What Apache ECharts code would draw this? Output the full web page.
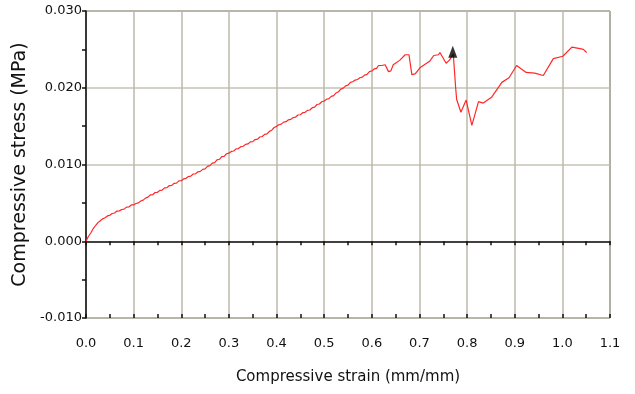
<!DOCTYPE html>
<html>
<head>
<meta charset="utf-8">
<script src="https://cdn.jsdelivr.net/npm/echarts@6/dist/echarts.min.js"></script>
<style>
html,body{margin:0;padding:0;background:#fff;}
#chart{width:635px;height:394px;}
</style>
</head>
<body>
<div id="chart"></div>
<script>
// Strain (mm/mm)
var strain = [
  0.000, 0.005, 0.010, 0.015, 0.020, 0.025, 0.030, 0.035, 0.040, 0.045,
  0.050, 0.055, 0.060, 0.065, 0.070, 0.075, 0.080, 0.085, 0.090, 0.095,
  0.100, 0.105, 0.110, 0.115, 0.120, 0.125, 0.130, 0.135, 0.140, 0.145,
  0.150, 0.155, 0.160, 0.165, 0.170, 0.175, 0.180, 0.185, 0.190, 0.195,
  0.200, 0.205, 0.210, 0.215, 0.220, 0.225, 0.230, 0.235, 0.240, 0.245,
  0.250, 0.255, 0.260, 0.265, 0.270, 0.275, 0.280, 0.285, 0.290, 0.295,
  0.300, 0.305, 0.310, 0.315, 0.320, 0.325, 0.330, 0.335, 0.340, 0.345,
  0.350, 0.355, 0.360, 0.365, 0.370, 0.375, 0.380, 0.385, 0.390, 0.395,
  0.400, 0.405, 0.410, 0.415, 0.420, 0.425, 0.430, 0.435, 0.440, 0.445,
  0.450, 0.455, 0.460, 0.465, 0.470, 0.475, 0.480, 0.485, 0.490, 0.495,
  0.500, 0.505, 0.510, 0.515, 0.520, 0.525, 0.530, 0.535, 0.540, 0.545,
  0.550, 0.555, 0.560, 0.565, 0.570, 0.575, 0.580, 0.585, 0.590, 0.595,
  0.600, 0.605, 0.610,
  0.614, 0.618, 0.621, 0.625, 0.628, 0.635, 0.640, 0.645,
  0.659, 0.670, 0.678, 0.684, 0.691, 0.701, 0.722, 0.730, 0.740, 0.743,
  0.756, 0.763, 0.771, 0.774, 0.776, 0.778, 0.787, 0.798, 0.810, 0.824,
  0.834, 0.852, 0.873, 0.888, 0.904, 0.924, 0.942, 0.960, 0.981, 1.001,
  1.020, 1.037, 1.044, 1.051
];
// Stress (MPa)
var stress = [
  0.00000, 0.00062, 0.00108, 0.00162, 0.00205, 0.00243, 0.00268, 0.00292, 0.00306, 0.00330,
  0.00338, 0.00362, 0.00368, 0.00393, 0.00396, 0.00414, 0.00418, 0.00445, 0.00447, 0.00473,
  0.00475, 0.00492, 0.00500, 0.00525, 0.00536, 0.00562, 0.00575, 0.00603, 0.00606, 0.00635,
  0.00638, 0.00662, 0.00667, 0.00695, 0.00698, 0.00726, 0.00728, 0.00755, 0.00757, 0.00786,
  0.00788, 0.00812, 0.00820, 0.00843, 0.00848, 0.00876, 0.00878, 0.00905, 0.00910, 0.00936,
  0.00942, 0.00975, 0.00985, 0.01018, 0.01025, 0.01060, 0.01068, 0.01102, 0.01107, 0.01140,
  0.01148, 0.01170, 0.01176, 0.01203, 0.01208, 0.01232, 0.01238, 0.01262, 0.01268, 0.01295,
  0.01298, 0.01325, 0.01330, 0.01358, 0.01365, 0.01392, 0.01398, 0.01432, 0.01447, 0.01482,
  0.01497, 0.01518, 0.01526, 0.01552, 0.01558, 0.01582, 0.01588, 0.01612, 0.01618, 0.01645,
  0.01648, 0.01675, 0.01680, 0.01705, 0.01710, 0.01740, 0.01748, 0.01782, 0.01788, 0.01818,
  0.01828, 0.01850, 0.01858, 0.01888, 0.01898, 0.01932, 0.01948, 0.01982, 0.01995, 0.02025,
  0.02035, 0.02070, 0.02078, 0.02100, 0.02108, 0.02130, 0.02138, 0.02165, 0.02175, 0.02210,
  0.02218, 0.02245, 0.02252,
  0.0229, 0.0227, 0.0229, 0.0227, 0.0230, 0.0221, 0.0222, 0.0230,
  0.0236, 0.0243, 0.0243, 0.0217, 0.0218, 0.0226, 0.0235, 0.0242, 0.0243, 0.0246,
  0.0232, 0.0236, 0.0244, 0.0244, 0.0200, 0.0185, 0.0168, 0.0184, 0.0151, 0.0182,
  0.0180, 0.0188, 0.0207, 0.0213, 0.0229, 0.0220, 0.0219, 0.0216, 0.0238, 0.0241,
  0.0253, 0.0251, 0.0250, 0.0246
];
// Failure marker
var peakStrain = [0.770];
var peakStress = [0.0247];

var xTicks = [0.0, 0.1, 0.2, 0.3, 0.4, 0.5, 0.6, 0.7, 0.8, 0.9, 1.0, 1.1];
var yTicks = [-0.010, 0.000, 0.010, 0.020, 0.030];

var lineData = strain.map(function (s, i) { return [s, stress[i]]; });
var peakData = peakStrain.map(function (s, i) { return [s, peakStress[i]]; });

var font = 'DejaVu Sans';
var chart = echarts.init(document.getElementById('chart'), null, {renderer: 'canvas'});
chart.setOption({
  animation: false,
  backgroundColor: '#ffffff',
  grid: {
    left: 86, right: 25, top: 11, bottom: 76,
    show: true, borderColor: '#222', borderWidth: 1, backgroundColor: 'transparent'
  },
  xAxis: [{
    type: 'value',
    min: xTicks[0], max: xTicks[xTicks.length - 1], interval: 0.1,
    name: 'Compressive strain (mm/mm)',
    nameLocation: 'middle', nameGap: 52,
    nameTextStyle: {fontFamily: font, fontSize: 15, color: '#111'},
    axisLine: {show: true, lineStyle: {color: '#111', width: 1.5}},
    axisTick: {show: true, inside: false, length: 4, lineStyle: {color: '#111', width: 1.5}},
    minorTick: {show: true, splitNumber: 2, length: 4, lineStyle: {color: '#111', width: 1.5}},
    axisLabel: {
      fontFamily: font, fontSize: 13, color: '#111', margin: 19,
      formatter: function (v) { return v.toFixed(1); }
    },
    splitLine: {show: true, lineStyle: {color: '#bcb8a8', width: 1.5}}
  }, {
    type: 'value', position: 'bottom',
    min: xTicks[0], max: xTicks[xTicks.length - 1], interval: 0.05,
    axisLine: {show: false},
    axisTick: {show: true, inside: true, length: 4, lineStyle: {color: '#111', width: 1.5}},
    axisLabel: {show: false},
    splitLine: {show: false}
  }],
  yAxis: {
    type: 'value',
    min: yTicks[0], max: yTicks[yTicks.length - 1], interval: 0.01,
    name: 'Compressive stress (MPa)',
    nameLocation: 'middle', nameGap: 54, nameRotate: 90,
    nameTextStyle: {fontFamily: font, fontSize: 19, color: '#111'},
    axisLine: {show: true, lineStyle: {color: '#111', width: 1.5}},
    axisTick: {show: true, inside: false, length: 4, lineStyle: {color: '#111', width: 1.5}},
    minorTick: {show: true, splitNumber: 2, length: 4, lineStyle: {color: '#111', width: 1.5}},
    axisLabel: {
      fontFamily: font, fontSize: 13, color: '#111', margin: 4,
      formatter: function (v) { return v.toFixed(3); }
    },
    splitLine: {show: true, lineStyle: {color: '#c6c2b4', width: 1.5}}
  },
  series: [{
    type: 'line',
    data: lineData,
    showSymbol: false,
    lineStyle: {color: '#ff2828', width: 1.2},
    z: 3
  }, {
    type: 'scatter',
    data: peakData,
    symbol: 'triangle',
    symbolSize: [9, 12],
    itemStyle: {color: '#000'},
    z: 4
  }]
});
</script>
</body>
</html>
